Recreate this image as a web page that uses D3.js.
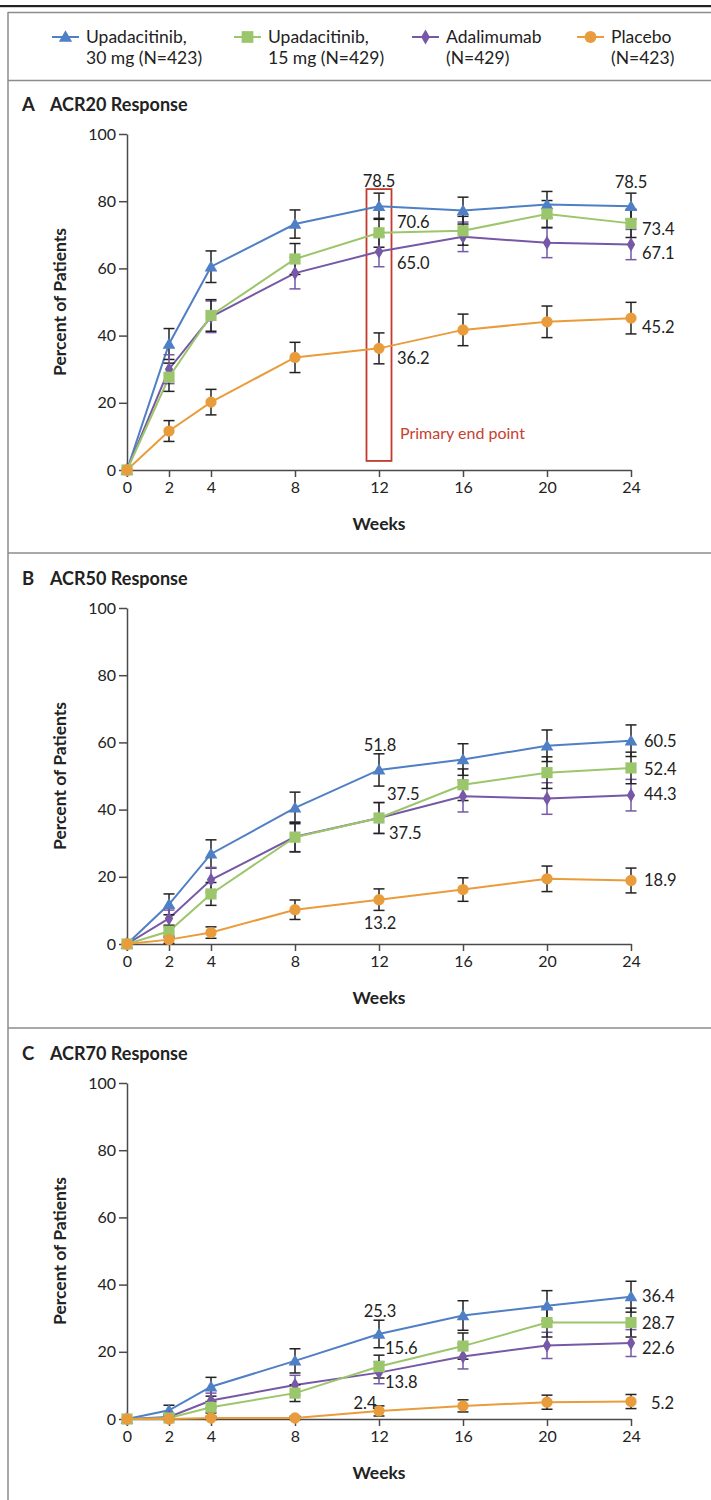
<!DOCTYPE html>
<html>
<head>
<meta charset="utf-8">
<script src="https://cdn.jsdelivr.net/npm/d3@7"></script>
<style>
  body { margin: 0; background: #fff; }
  svg { display: block; font-family: Lato, "Open Sans", sans-serif; }
  .axis path, .axis line { stroke: #4a4a4a; stroke-width: 1.5; }
  .axis text { font-size: 16px; fill: #222; font-family: Lato, sans-serif; }
</style>
</head>
<body>
<svg id="chart" width="711" height="1500"></svg>
<script>
// ---- data ----
const weeks = [0, 2, 4, 8, 12, 16, 20, 24];
const xTicks = [0, 2, 4, 8, 12, 16, 20, 24];
const yTicks = [0, 20, 40, 60, 80, 100];

const seriesNames = ["upa30", "upa15", "ada", "placebo"];
const legendLines = [
  ["Upadacitinib,", "30 mg (N=423)"],
  ["Upadacitinib,", "15 mg (N=429)"],
  ["Adalimumab", "(N=429)"],
  ["Placebo", "(N=423)"]
];

const panelTitles = [["A", "ACR20 Response"], ["B", "ACR50 Response"], ["C", "ACR70 Response"]];

// ACR20
const acr20Upa30 = [0, 37.5, 60.5, 73.2, 78.5, 77.2, 79.0, 78.5];
const acr20Upa15 = [0, 27.6, 46.0, 62.8, 70.6, 71.2, 76.2, 73.4];
const acr20Ada = [0, 30.0, 45.6, 58.6, 65.0, 69.4, 67.6, 67.1];
const acr20Placebo = [0, 11.6, 20.2, 33.5, 36.2, 41.7, 44.1, 45.2];
const acr20Upa30Err = [0, 4.6, 4.7, 4.2, 3.9, 4.0, 3.9, 3.9];
const acr20Upa15Err = [0, 4.2, 4.7, 4.6, 4.3, 4.3, 4.0, 4.2];
const acr20AdaErr = [0, 4.3, 4.7, 4.7, 4.5, 4.4, 4.4, 4.5];
const acr20PlaceboErr = [0, 3.1, 3.8, 4.5, 4.6, 4.7, 4.7, 4.7];

// ACR50
const acr50Upa30 = [0, 11.8, 26.8, 40.5, 51.8, 54.9, 59.0, 60.5];
const acr50Upa15 = [0, 3.8, 14.9, 31.8, 37.5, 47.4, 51.0, 52.4];
const acr50Ada = [0, 7.6, 19.1, 31.9, 37.5, 44.0, 43.3, 44.3];
const acr50Placebo = [0, 1.3, 3.4, 10.2, 13.2, 16.2, 19.4, 18.9];
const acr50Upa30Err = [0, 3.1, 4.2, 4.7, 4.8, 4.7, 4.7, 4.7];
const acr50Upa15Err = [0, 1.8, 3.4, 4.4, 4.6, 4.7, 4.7, 4.7];
const acr50AdaErr = [0, 2.5, 3.7, 4.4, 4.6, 4.7, 4.7, 4.7];
const acr50PlaceboErr = [0, 1.1, 1.7, 2.9, 3.2, 3.5, 3.8, 3.7];

// ACR70
const acr70Upa30 = [0, 2.6, 9.6, 17.3, 25.3, 30.8, 33.7, 36.4];
const acr70Upa15 = [0, 0.3, 3.5, 7.7, 15.6, 21.7, 28.7, 28.7];
const acr70Ada = [0, 0.6, 5.5, 10.1, 13.8, 18.6, 21.9, 22.6];
const acr70Placebo = [0, 0.0, 0.3, 0.3, 2.4, 3.9, 5.0, 5.2];
const acr70Upa30Err = [0, 1.5, 2.8, 3.6, 4.1, 4.4, 4.5, 4.6];
const acr70Upa15Err = [0, 0.5, 1.7, 2.5, 3.4, 3.9, 4.3, 4.3];
const acr70AdaErr = [0, 0.7, 2.2, 2.9, 3.3, 3.7, 3.9, 4.0];
const acr70PlaceboErr = [0, 0, 0.5, 0.5, 1.5, 1.8, 2.1, 2.1];

// labelled points per panel: [series, week]
const labelsA = [["upa30", 12], ["upa15", 12], ["ada", 12], ["placebo", 12],
                 ["upa30", 24], ["upa15", 24], ["ada", 24], ["placebo", 24]];
const labelsB = labelsA;
const labelsC = labelsA;

// primary end point box range (percent)
const endPointRange = [2.7, 83.6];

// ---- styles / layout ----
const colors = { upa30: "#4f7fc4", upa15: "#9cc66b", ada: "#7658a6", placebo: "#e99c3b" };
const errColors = { upa30: "#222", upa15: "#222", ada: "#7658a6", placebo: "#222" };
const symbols = { upa30: d3.symbolTriangle, upa15: d3.symbolSquare, ada: d3.symbolDiamond, placebo: d3.symbolCircle };
const symSizes = { upa30: 70, upa15: 125, ada: 60, placebo: 100 };
const drawOrder = ["upa30", "ada", "upa15", "placebo"];

// label offsets [dx, dy, anchor] per panel, matching labels arrays
const labelPlace = [
  [[0, -25, "middle"], [18, -11, "start"], [18, 12, "start"], [18, 10, "start"],
   [0, -24, "middle"], [11, 6, "start"], [11, 9, "start"], [11, 9, "start"]],
  [[1, -25, "middle"], [8, -24, "start"], [10, 15, "start"], [1, 24, "middle"],
   [13, 1, "start"], [13, 1, "start"], [13, -1, "start"], [13, 0, "start"]],
  [[1, -23, "middle"], [6, -18, "start"], [6, 10, "start"], [-14, -8, "middle"],
   [11, 0, "start"], [11, 1, "start"], [11, 5, "start"], [20, 2, "start"]]
];

const panels = [
  { y0: 470, labels: labelsA, box: true,
    values: { upa30: acr20Upa30, upa15: acr20Upa15, ada: acr20Ada, placebo: acr20Placebo },
    errs: { upa30: acr20Upa30Err, upa15: acr20Upa15Err, ada: acr20AdaErr, placebo: acr20PlaceboErr } },
  { y0: 944, labels: labelsB, box: false,
    values: { upa30: acr50Upa30, upa15: acr50Upa15, ada: acr50Ada, placebo: acr50Placebo },
    errs: { upa30: acr50Upa30Err, upa15: acr50Upa15Err, ada: acr50AdaErr, placebo: acr50PlaceboErr } },
  { y0: 1419, labels: labelsC, box: false,
    values: { upa30: acr70Upa30, upa15: acr70Upa15, ada: acr70Ada, placebo: acr70Placebo },
    errs: { upa30: acr70Upa30Err, upa15: acr70Upa15Err, ada: acr70AdaErr, placebo: acr70PlaceboErr } }
];

const svg = d3.select("#chart");
const frameColor = "#8c8c8c";
const x = d3.scaleLinear().domain([0, 24]).range([127, 631]);
const plotH = 336;

// --- frame ---
svg.append("rect").attr("x", 0).attr("y", 5).attr("width", 711).attr("height", 2.2).attr("fill", "#222");
svg.append("line").attr("x1", 8).attr("x2", 711).attr("y1", 12.5).attr("y2", 12.5)
  .attr("stroke", frameColor).attr("stroke-width", 1.5);
svg.append("line").attr("x1", 8).attr("x2", 8).attr("y1", 12).attr("y2", 1500)
  .attr("stroke", frameColor).attr("stroke-width", 1.5);
[80.5, 553, 1028].forEach(yy => {
  svg.append("line").attr("x1", 8).attr("x2", 711).attr("y1", yy).attr("y2", yy)
    .attr("stroke", frameColor).attr("stroke-width", 1.5);
});

// --- legend ---
const legendX = [52, 234, 412, 577];
const legend = svg.append("g").attr("class", "legend");
seriesNames.forEach((s, i) => {
  const g = legend.append("g").attr("transform", `translate(${legendX[i]},37)`);
  g.append("line").attr("x1", 0).attr("x2", 27).attr("stroke", colors[s]).attr("stroke-width", 2);
  g.append("path").attr("d", d3.symbol(symbols[s], symSizes[s] * 1.1)())
    .attr("transform", `translate(13.5,${s === "upa30" ? 1 : 0})`).attr("fill", colors[s]);
  legendLines[i].forEach((t, j) => {
    g.append("text").attr("x", 34).attr("y", j * 21).attr("dy", "0.35em")
      .attr("font-size", 17.5).attr("fill", "#222").text(t);
  });
});

// --- panels ---
panels.forEach((p, pi) => {
  const y = d3.scaleLinear().domain([0, 100]).range([p.y0, p.y0 - plotH]);
  const g = svg.append("g");

  // title
  g.append("text").attr("x", 22).attr("y", p.y0 - 365).attr("dy", "0.35em")
    .attr("font-size", 18.5).attr("font-weight", "bold").attr("fill", "#222").text(panelTitles[pi][0]);
  g.append("text").attr("x", 50).attr("y", p.y0 - 365).attr("dy", "0.35em")
    .attr("font-size", 18).attr("font-weight", "bold").attr("fill", "#222").text(panelTitles[pi][1]);

  // axes
  g.append("g").attr("class", "axis").attr("transform", `translate(${x(0)},0)`)
    .call(d3.axisLeft(y).tickValues(yTicks).tickSize(8).tickSizeOuter(0).tickPadding(3));
  g.append("g").attr("class", "axis").attr("transform", `translate(0,${p.y0})`)
    .call(d3.axisBottom(x).tickValues(xTicks).tickSize(7).tickSizeOuter(0).tickPadding(5));

  g.append("text").attr("x", x(12)).attr("y", p.y0 + 54).attr("dy", "0.35em")
    .attr("text-anchor", "middle").attr("font-size", 17.5).attr("font-weight", "bold")
    .attr("fill", "#222").text("Weeks");
  g.append("text").attr("transform", `translate(60,${y(50)}) rotate(-90)`).attr("dy", "0.35em")
    .attr("text-anchor", "middle").attr("font-size", 17.5).attr("font-weight", "bold")
    .attr("fill", "#222").text("Percent of Patients");

  // primary end point box
  if (p.box) {
    g.append("rect").attr("x", x(12) - 12.5).attr("width", 25)
      .attr("y", y(endPointRange[1])).attr("height", y(endPointRange[0]) - y(endPointRange[1]))
      .attr("fill", "none").attr("stroke", "#c23b2c").attr("stroke-width", 1.8);
    g.append("text").attr("x", x(12) + 21).attr("y", y(11)).attr("dy", "0.35em")
      .attr("font-size", 16).attr("fill", "#c8402f").text("Primary end point");
  }

  const line = d3.line().x(d => x(d.w)).y(d => y(d.v));

  // lines
  drawOrder.forEach(s => {
    const pts = weeks.map((w, i) => ({ w, v: p.values[s][i], e: p.errs[s][i] }));
    g.append("path").datum(pts).attr("d", line).attr("fill", "none")
      .attr("stroke", colors[s]).attr("stroke-width", 2);
  });

  // error bars
  drawOrder.forEach(s => {
    const pts = weeks.map((w, i) => ({ w, v: p.values[s][i], e: p.errs[s][i] })).filter(d => d.e > 0);
    const eb = g.append("g").attr("stroke", errColors[s]).attr("stroke-width", 1.5);
    eb.selectAll("line.v").data(pts).join("line")
      .attr("x1", d => x(d.w)).attr("x2", d => x(d.w))
      .attr("y1", d => y(d.v - d.e)).attr("y2", d => y(d.v + d.e));
    eb.selectAll("line.t").data(pts).join("line")
      .attr("x1", d => x(d.w) - 5.5).attr("x2", d => x(d.w) + 5.5)
      .attr("y1", d => y(d.v + d.e)).attr("y2", d => y(d.v + d.e));
    eb.selectAll("line.b").data(pts).join("line")
      .attr("x1", d => x(d.w) - 5.5).attr("x2", d => x(d.w) + 5.5)
      .attr("y1", d => y(d.v - d.e)).attr("y2", d => y(d.v - d.e));
  });

  // markers
  drawOrder.forEach(s => {
    const pts = weeks.map((w, i) => ({ w, v: p.values[s][i] }));
    g.selectAll(null).data(pts).join("path")
      .attr("d", d3.symbol(symbols[s], symSizes[s])())
      .attr("transform", d => `translate(${x(d.w)},${y(d.v) + (s === "upa30" ? 1 : 0)})`)
      .attr("fill", colors[s]);
  });

  // value labels
  p.labels.forEach(([s, w], li) => {
    const v = p.values[s][weeks.indexOf(w)];
    const [dx, dy, anchor] = labelPlace[pi][li];
    g.append("text").attr("x", x(w) + dx).attr("y", y(v) + dy).attr("dy", "0.35em")
      .attr("text-anchor", anchor).attr("font-size", 16.5).attr("fill", "#222")
      .text(v.toFixed(1));
  });
});
</script>
</body>
</html>
